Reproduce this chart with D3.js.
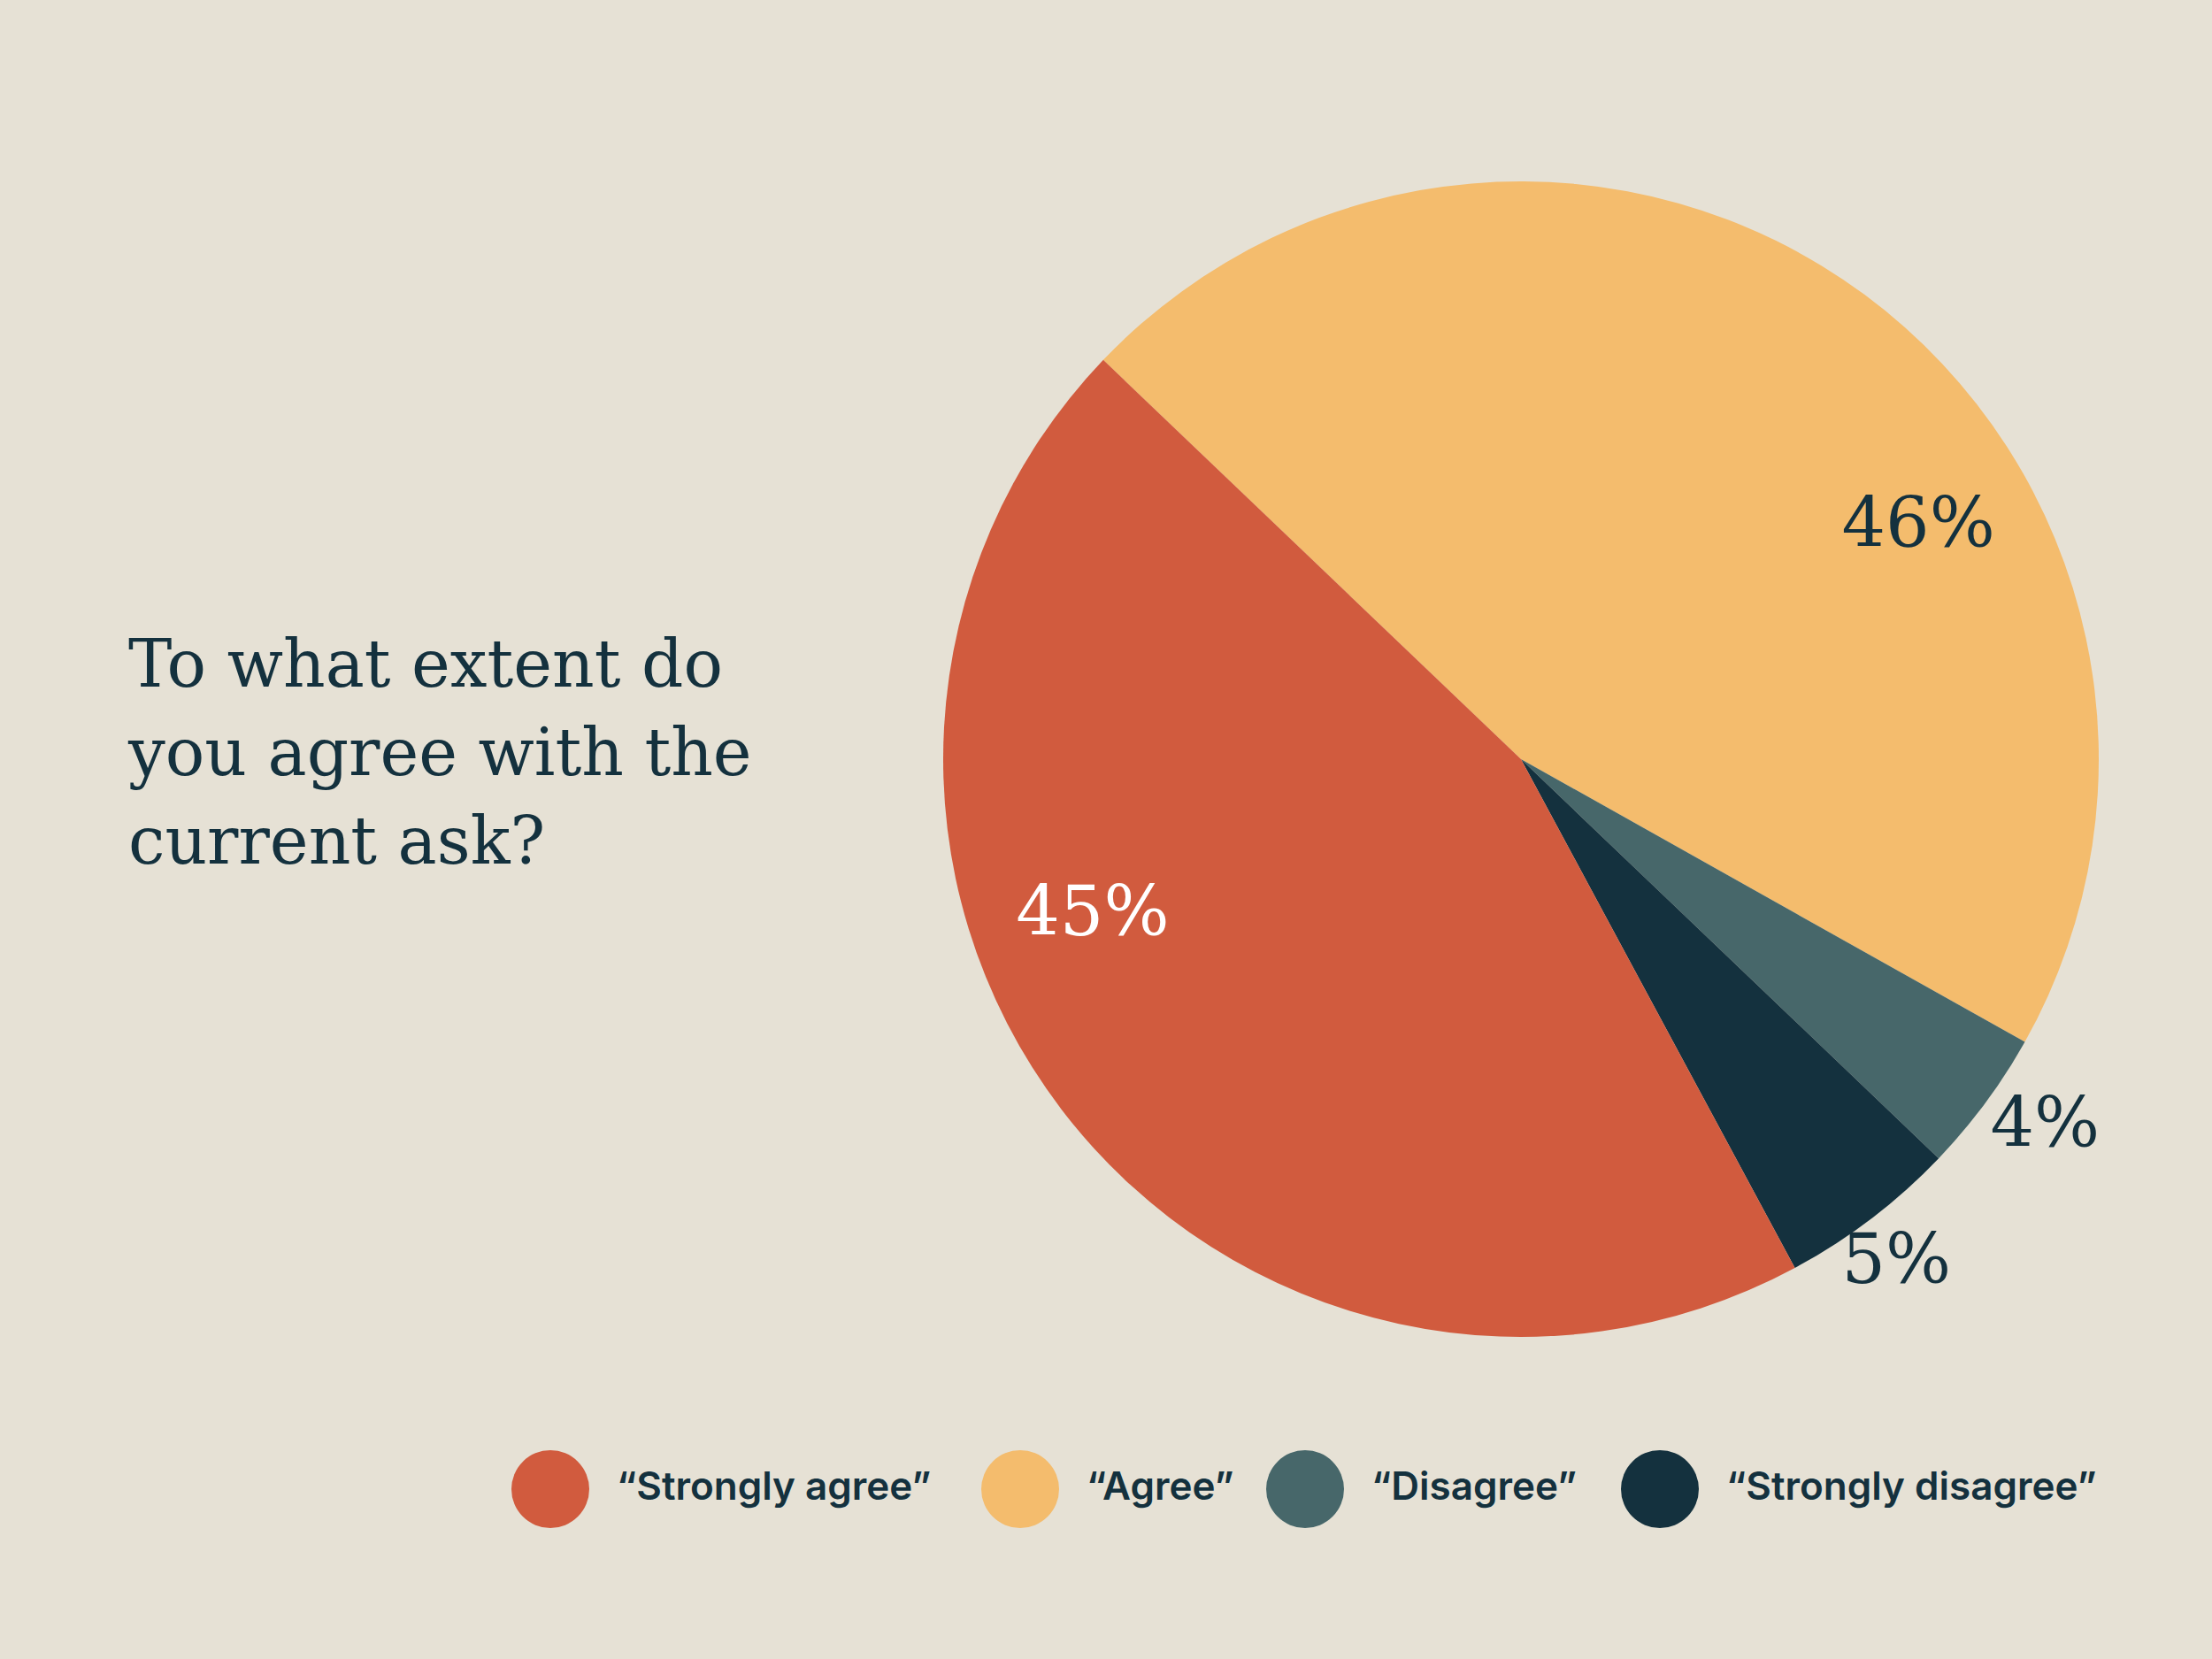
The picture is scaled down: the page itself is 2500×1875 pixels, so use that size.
<!DOCTYPE html>
<html><head><meta charset="utf-8">
<script src="https://cdn.jsdelivr.net/npm/d3@7"></script>
<style>html,body{margin:0;padding:0;background:#e6e1d5;}</style>
</head><body>
<svg id="c" width="2500" height="1875"></svg>
<script>
const categories = ["“Agree”","“Disagree”","“Strongly disagree”","“Strongly agree”"];
const values = [46, 4, 5, 45];
const colors = ["#f4bc6d","#47676a","#14313e","#d15b3e"];
const labelColors = ["#14313e","#14313e","#14313e","#ffffff"];
// label placement: [angle deg, radius fraction]
const labelAngles = [59.9, 125.2, 143.4, 249.8];
const labelRadii = [0.795, 1.11, 1.09, 0.79];
const legendOrder = ["“Strongly agree”","“Agree”","“Disagree”","“Strongly disagree”"];
const titleLines = ["To what extent do","you agree with the","current ask?"];

const svg = d3.select("#c");
svg.append("rect").attr("width",2500).attr("height",1875).attr("fill","#e6e1d5");
const cx=1719, cy=858, R=653;
const g = svg.append("g").attr("transform",`translate(${cx},${cy})`);
const pie = d3.pie().sort(null).value(d=>d).startAngle(-46.3*Math.PI/180).endAngle((360-46.3)*Math.PI/180);
const arcs = pie(values);
const arc = d3.arc().innerRadius(0).outerRadius(R);
g.selectAll("path").data(arcs).join("path").attr("d",arc).attr("fill",(d,i)=>colors[i]);
g.selectAll("text").data(arcs).join("text")
  .attr("x",(d,i)=>Math.sin(labelAngles[i]*Math.PI/180)*R*labelRadii[i])
  .attr("y",(d,i)=>-Math.cos(labelAngles[i]*Math.PI/180)*R*labelRadii[i])
  .attr("text-anchor","middle").attr("dominant-baseline","middle")
  .attr("font-family","DejaVu Serif").attr("font-size",78)
  .attr("fill",(d,i)=>labelColors[i]).text(d=>d.value+"%");

svg.append("g").selectAll("text").data(titleLines).join("text")
  .attr("x",145).attr("y",(d,i)=>776+i*100)
  .attr("font-family","DejaVu Serif").attr("font-size",74).attr("fill","#14313e").text(d=>d);

const lx=[622,1153,1475,1876];
const lg=svg.append("g");
legendOrder.forEach((c,i)=>{
  const col=colors[categories.indexOf(c)];
  lg.append("circle").attr("cx",lx[i]).attr("cy",1683).attr("r",44).attr("fill",col);
  lg.append("text").attr("x",lx[i]+75).attr("y",1683).attr("dominant-baseline","middle")
    .attr("font-family","Inter").attr("font-weight",600).attr("font-size",44).attr("fill","#14313e").text(c);
});
</script>
</body></html>
